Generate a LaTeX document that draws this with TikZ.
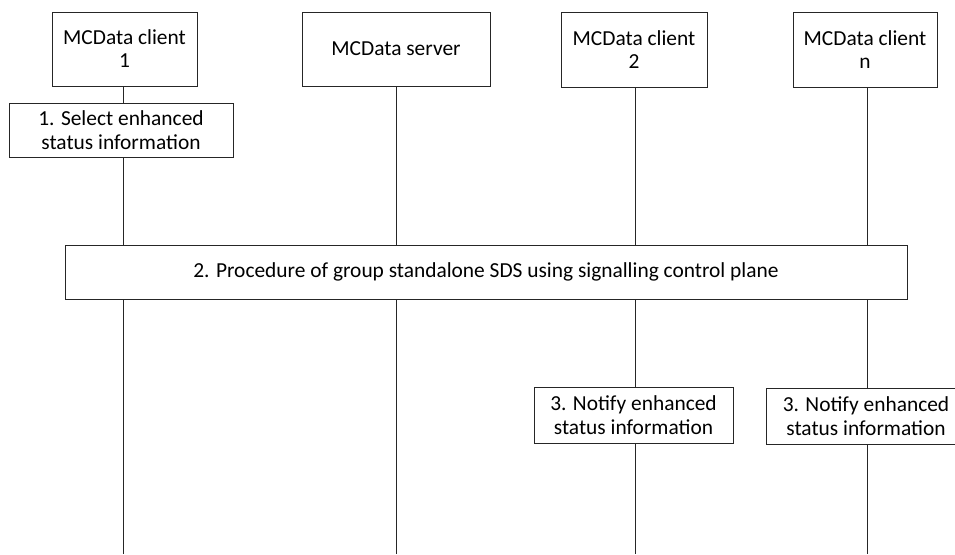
\documentclass[tikz,border=0pt]{standalone}
\usepackage{fontspec}
\setmainfont{Carlito}
\begin{document}
\begin{tikzpicture}[x=1pt,y=-1pt,
  ent/.style={draw=black!85,line width=0.8pt,inner sep=0pt,align=center,
    font=\fontsize{21.4}{23}\selectfont},
  two/.style={font=\fontsize{21.4}{24.5}\selectfont},
  life/.style={draw=black!85,line width=0.8pt}]
\useasboundingbox (0,0) rectangle (955,554);
\node[ent,minimum width=145,minimum height=74] (c1) at (124.5,49) {MCData client\\1};
\node[ent,minimum width=188,minimum height=74] (srv) at (396,49) {MCData server};
\node[ent,minimum width=146,minimum height=75] (c2) at (634,49.5) {MCData client\\2};
\node[ent,minimum width=144,minimum height=75] (cn) at (865,49.5) {MCData client\\n};
\coordinate (e1) at (123,554);
\coordinate (es) at (396,554);
\coordinate (e2) at (635,554);
\coordinate (en) at (867,554);
\draw[life] (c1.south -| e1) -- (e1);
\draw[life] (srv.south -| es) -- (es);
\draw[life] (c2.south -| e2) -- (e2);
\draw[life] (cn.south -| en) -- (en);
\node[ent,two,fill=white,minimum width=224,minimum height=54] (s1) at (121,130) {1. Select enhanced\\status information};
\node[ent,fill=white,minimum width=842,minimum height=54] (s2) at (486,272) {2. Procedure of group standalone SDS using signalling control plane};
\node[ent,two,fill=white,minimum width=199,minimum height=56] (s3a) at (633.5,415) {3. Notify enhanced\\status information};
\draw[life,fill=white] (766,388) rectangle (990,444);
\node[ent,two,draw=none,minimum height=56] (s3b) at (866,416) {3. Notify enhanced\\status information};
\end{tikzpicture}
\end{document}
